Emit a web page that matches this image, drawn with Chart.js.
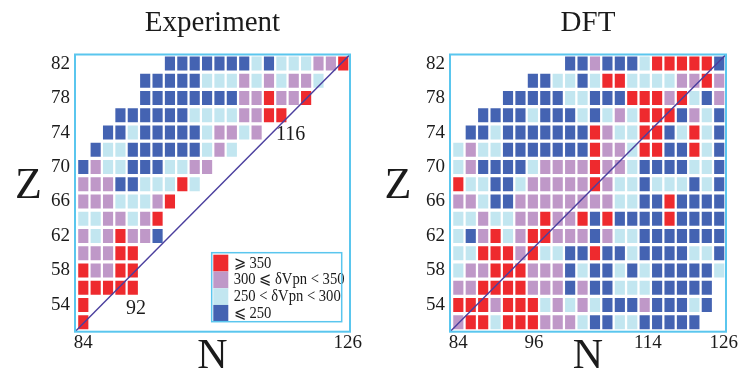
<!DOCTYPE html>
<html>
<head>
<meta charset="utf-8">
<script src="https://cdn.jsdelivr.net/npm/chart.js@4.4.0/dist/chart.umd.min.js"></script>
<style>
  html, body { margin: 0; padding: 0; background: #fff; width: 739px; height: 374px; overflow: hidden; }
  .panel { position: absolute; top: 0; }
  #leftPanel { left: 0; }
  #rightPanel { left: 375px; }
</style>
</head>
<body>
<div class="panel" id="leftPanel"><canvas id="expChart" width="375" height="374"></canvas></div>
<div class="panel" id="rightPanel"><canvas id="dftChart" width="364" height="374"></canvas></div>
<script>
// Even neutron numbers (columns) and even proton numbers (rows, top to bottom)
const neutronNumbers = [84, 86, 88, 90, 92, 94, 96, 98, 100, 102, 104, 106, 108, 110, 112, 114, 116, 118, 120, 122, 124, 126];
const protonNumbers = [82, 80, 78, 76, 74, 72, 70, 68, 66, 64, 62, 60, 58, 56, 54, 52];

// dVpn classes: R >= 350, P 300-350, L 250-300, D <= 250 (keV)
const classCodes = ['R', 'P', 'L', 'D'];
const classLabels = ['\u2A7E 350', '300 \u2A7D \u03B4Vpn < 350', '250 < \u03B4Vpn < 300', '\u2A7D 250'];
const classColors = ['#ee2a2e', '#bf98c8', '#c2e6f0', '#4463b2'];

// One string per proton row, one character per neutron column ('.' = no nucleus)
const experimentRows = [
  '.......DDDDDDDLDLLLPPR',
  '.....DDDDDLLLPLPLPPL',
  '.....DDDDDDDDPPRPPR',
  '...DDDDDDLLLLPPRR',
  '..DDLDDDDDLPPLP',
  '.DLLDDDDDDLPL',
  'DPLLDDDLLPP',
  'PPPDDLLLRL',
  'PPPLLLPR',
  'LLPPLPR',
  'PLPRPPD',
  'PPPRR',
  'RPPRR',
  'RRRRR',
  'R',
  'R'
];
const dftRows = [
  '.........DDPDDDLRRRRRD',
  '......DDLLDLRRLLLLPPRP',
  '....DDDDDLLDDDRRRPRLDP',
  '..DDDDLDDDLDLPLRRRDPLD',
  '.DDLDDDDDDDRPLLRRDLRLD',
  'LPLLDDDDDDDRPPLRRDDRLD',
  'LPDDDDLPPPPRPPLDDDDLLD',
  'RLLDDLPPPPPRPLLDLLLDLD',
  'PPLDDPPPPPPPPLLDDRDDDD',
  'LLPLLPPRPPRDRDDDDRDDDD',
  'LDPRLPRRPPPDPLLDDDDDDD',
  'LLRRRPRLLDDRDDLDDDDLLD',
  'LPPRRRPPPDLDDLDLDDDDDL',
  'PPRRRRPPPDPDDLLLDDDDD',
  'RRRPRRRLPLPLDDDPDDDLD',
  'PRRLRRRPPPLDDLLDDDDD'
];

// Axis tick labels
const expTickN = [84, 126];
const dftTickN = [84, 96, 114, 126];
const tickZ = [54, 58, 62, 66, 70, 74, 78, 82];

// Scale ranges
const N_MIN = 82.66, N_MAX = 127.09;         // cell scale
const N_LBL_MIN = 82.70, N_LBL_MAX = 126.35; // tick-label scale
const Z_MIN = 50.9, Z_MAX = 83.05;
const CELL_HALF_Z = 0.78;
const CELL_WIDTH_PX = 9.5;

const SERIF = '"Liberation Serif", "DejaVu Serif", "Times New Roman", serif';
const INK = '#1b1b1b';
const FRAME = '#5ac6ee';

function cellDatasets(rows) {
  return classCodes.map((code, k) => ({
    type: 'bar',
    label: classLabels[k],
    backgroundColor: classColors[k],
    borderWidth: 0,
    barThickness: CELL_WIDTH_PX,
    grouped: false,
    order: 2,
    data: rows.flatMap((row, r) =>
      [...row.padEnd(neutronNumbers.length, '.')].flatMap((c, i) =>
        c === code ? [{ x: neutronNumbers[i], y: [protonNumbers[r] - CELL_HALF_Z, protonNumbers[r] + CELL_HALF_Z] }] : []
      )
    )
  }));
}

function diagonalDataset() {
  return {
    type: 'line',
    data: [{ x: N_MIN, y: Z_MIN }, { x: N_MAX, y: Z_MAX }],
    borderColor: '#4b3f9e',
    borderWidth: 1.5,
    pointRadius: 0,
    fill: false,
    order: 0
  };
}

// Plot frame around the chart area
const framePlugin = {
  id: 'frame',
  afterDatasetsDraw(chart, args, opts) {
    const { ctx, chartArea: a } = chart;
    ctx.save();
    ctx.strokeStyle = opts.color;
    ctx.lineWidth = opts.width;
    ctx.strokeRect(a.left, a.top, a.right - a.left, a.bottom - a.top);
    ctx.restore();
  }
};

// Upright "Z" axis letter beside the y axis
const axisLetterPlugin = {
  id: 'axisLetter',
  afterDraw(chart, args, opts) {
    const { ctx, chartArea: a, scales } = chart;
    ctx.save();
    ctx.font = opts.size + 'px ' + SERIF;
    ctx.fillStyle = INK;
    ctx.textAlign = 'center';
    ctx.textBaseline = 'middle';
    ctx.fillText(opts.text, a.left - opts.offset, scales.y.getPixelForValue(opts.atZ));
    ctx.restore();
  }
};

// Text notes placed at (N, Z)
const notesPlugin = {
  id: 'notes',
  afterDatasetsDraw(chart, args, opts) {
    const { ctx, scales } = chart;
    ctx.save();
    ctx.font = opts.size + 'px ' + SERIF;
    ctx.fillStyle = INK;
    ctx.textAlign = 'center';
    ctx.textBaseline = 'middle';
    (opts.items || []).forEach(n => ctx.fillText(n.text, scales.x.getPixelForValue(n.n), scales.y.getPixelForValue(n.z)));
    ctx.restore();
  }
};

// Colour key boxed in the lower right corner of the plot
const keyPlugin = {
  id: 'keyBox',
  afterDatasetsDraw(chart, args, opts) {
    const { ctx, chartArea: a } = chart;
    const right = a.right - opts.insetRight;
    const bottom = a.bottom - opts.insetBottom;
    const height = opts.rowHeight * classLabels.length + opts.topGap;
    const left = right - opts.width;
    const top = bottom - height;
    ctx.save();
    ctx.fillStyle = '#fff';
    ctx.fillRect(left, top, opts.width, height);
    classLabels.forEach((label, k) => {
      const y0 = bottom - (classLabels.length - k) * opts.rowHeight;
      ctx.fillStyle = classColors[k];
      ctx.fillRect(left + 1.6, y0, opts.swatchWidth, opts.rowHeight);
      ctx.fillStyle = INK;
      ctx.font = opts.size + 'px ' + SERIF;
      ctx.textAlign = 'left';
      ctx.textBaseline = 'middle';
      const w = ctx.measureText(label).width;
      ctx.fillText(label, left + opts.textIndent, y0 + opts.rowHeight / 2, w * opts.condense);
    });
    ctx.strokeStyle = FRAME;
    ctx.lineWidth = 1.5;
    ctx.strokeRect(left, top, opts.width, height);
    ctx.restore();
  }
};

function makeChart(canvasId, rows, cfg) {
  const plugins = [framePlugin, axisLetterPlugin, notesPlugin];
  if (cfg.withKey) plugins.push(keyPlugin);
  return new Chart(document.getElementById(canvasId), {
    type: 'bar',
    data: { datasets: [...cellDatasets(rows), diagonalDataset()] },
    options: {
      responsive: false,
      animation: false,
      devicePixelRatio: 1,
      events: [],
      layout: { padding: { left: 0, right: cfg.padRight, top: 0, bottom: 0 } },
      plugins: {
        legend: { display: false },
        tooltip: { enabled: false },
        title: {
          display: true,
          text: cfg.title,
          fullSize: false,
          color: INK,
          font: { family: SERIF, size: 29, weight: 'normal', lineHeight: 1.2 },
          padding: { top: 6.4, bottom: 13.3 }
        },
        frame: { color: FRAME, width: 2 },
        axisLetter: { text: 'Z', size: 44, offset: cfg.zOffset, atZ: 67.8 },
        notes: { size: 20, items: cfg.notes },
        keyBox: { insetRight: 8.3, insetBottom: 10, width: 130, rowHeight: 16.75, topGap: 2, swatchWidth: 15, textIndent: 22, size: 17, condense: 0.86 }
      },
      scales: {
        x: { type: 'linear', display: false, min: N_MIN, max: N_MAX, offset: false },
        xLabels: {
          type: 'linear',
          position: 'bottom',
          min: N_LBL_MIN,
          max: N_LBL_MAX,
          offset: false,
          grid: { display: false, drawTicks: false },
          border: { display: false },
          afterBuildTicks: s => { s.ticks = cfg.tickN.map(v => ({ value: v })); },
          ticks: { padding: 0, color: INK, autoSkip: false, maxRotation: 0, font: { family: SERIF, size: 19 } },
          title: { display: true, text: 'N', color: INK, padding: 0, font: { family: SERIF, size: 42, lineHeight: 0.8 } },
          afterFit: s => { s.height = 42.3; s.paddingLeft = 0; s.paddingRight = 0; }
        },
        y: {
          type: 'linear',
          min: Z_MIN,
          max: Z_MAX,
          grid: { display: false, drawTicks: false },
          border: { display: false },
          afterBuildTicks: s => { s.ticks = tickZ.map(v => ({ value: v })); },
          ticks: { padding: 5, color: INK, autoSkip: false, font: { family: SERIF, size: 19 } },
          afterFit: s => { s.width = 75; s.paddingTop = 0; s.paddingBottom = 0; }
        }
      }
    },
    plugins
  });
}

makeChart('expChart', experimentRows, {
  title: 'Experiment',
  padRight: 25,
  zOffset: 46.5,
  tickN: expTickN,
  withKey: true,
  notes: [{ text: '116', n: 117.5, z: 73.7 }, { text: '92', n: 92.5, z: 53.6 }]
});

makeChart('dftChart', dftRows, {
  title: 'DFT',
  padRight: 13,
  zOffset: 52,
  tickN: dftTickN,
  withKey: false,
  notes: []
});
</script>
</body>
</html>
